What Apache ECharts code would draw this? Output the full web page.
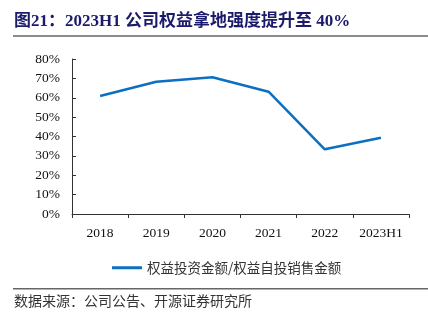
<!DOCTYPE html>
<html><head><meta charset="utf-8">
<script src="https://cdn.jsdelivr.net/npm/echarts@6/dist/echarts.min.js"></script>
<style>html,body{margin:0;padding:0;background:#fff}#c{width:428px;height:321px}</style>
</head><body><div id="c"></div>
<script>
const categories = ['2018','2019','2020','2021','2022','2023H1'];
const ratio = [60.9, 68.3, 70.6, 63.1, 33.4, 39.4];
const seriesName = '权益投资金额/权益自投销售金额';
const titleText = '图21：2023H1 公司权益拿地强度提升至 40%';
const sourceText = '数据来源：公司公告、开源证券研究所';

const chart = echarts.init(document.getElementById('c'), null, {renderer:'canvas'});
chart.setOption({
  animation:false,
  backgroundColor:'#fff',
  grid:{left:72, right:19, top:59, bottom:107},
  legend:{
    data:[seriesName], top:256, left:107,
    itemWidth:30, itemHeight:3, itemGap:3,
    icon:'rect',
    textStyle:{fontFamily:'Noto Sans CJK SC', fontSize:13.5, color:'#333'}
  },
  xAxis:{
    type:'category', data:categories, boundaryGap:true,
    axisLine:{lineStyle:{color:'#333', width:1}},
    axisTick:{show:true, lineStyle:{color:'#333'}, length:4, alignWithLabel:false},
    axisLabel:{interval:0, fontFamily:'Liberation Serif', fontSize:13.5, color:'#111', margin:12}
  },
  yAxis:{
    type:'value', min:0, max:80, interval:10,
    axisLine:{show:true, lineStyle:{color:'#333'}},
    axisTick:{show:true, inside:true, length:4, lineStyle:{color:'#333'}},
    splitLine:{show:false},
    axisLabel:{fontFamily:'Liberation Serif', fontSize:13.5, color:'#111', margin:12, formatter:'{value}%'}
  },
  series:[{
    name:seriesName, type:'line', data:ratio, symbol:'none',
    lineStyle:{color:'#0b6fc2', width:2.5}, itemStyle:{color:'#0b6fc2'}
  }],
  graphic:[
    {type:'text', left:14, top:13, style:{text:titleText, fontFamily:'Liberation Serif, Noto Sans CJK SC', fontWeight:'bold', fontSize:17, fill:'#1b1a6b'}},
    {type:'rect', shape:{x:13, y:35, width:415, height:2}, style:{fill:'#8c8c8c'}},
    {type:'rect', shape:{x:13, y:288, width:415, height:1.5}, style:{fill:'#666'}},
    {type:'text', left:14, top:294, style:{text:sourceText, fontFamily:'Noto Sans CJK SC', fontSize:14, fill:'#333'}}
  ]
});
</script></body></html>
